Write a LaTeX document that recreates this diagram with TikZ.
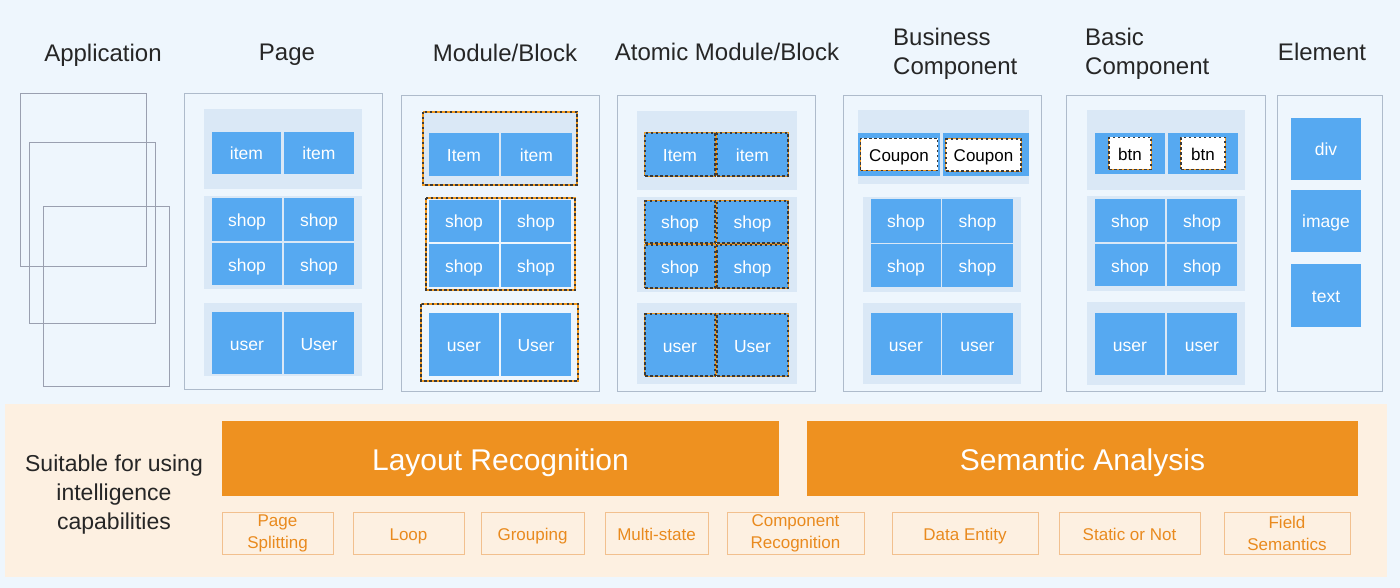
\documentclass[tikz,border=0pt]{standalone}
\usepackage{fontspec}
\setmainfont{Liberation Sans}

\definecolor{bgblue}{HTML}{EEF6FD}
\definecolor{panelline}{HTML}{AEBBCB}
\definecolor{grpblue}{HTML}{DAE8F6}
\definecolor{cellblue}{HTML}{56A9F1}
\definecolor{barorange}{HTML}{EE9120}
\definecolor{beige}{HTML}{FDF0E1}
\definecolor{tagline}{HTML}{F2C08E}
\definecolor{tagtext}{HTML}{E98A1E}
\definecolor{dashorange}{HTML}{F39A1E}
\definecolor{dashdark}{HTML}{3A3A3A}
\definecolor{appline}{HTML}{9AA0B0}

\tikzset{
  head/.style={anchor=base, font=\fontsize{24}{29}\selectfont, text=black!85, inner sep=0pt},
  panel/.style={draw=panelline, line width=0.8pt},
  grp/.style={fill=grpblue},
  cell/.style 2 args={fill=cellblue, text=white, inner sep=0pt, text height=16pt, text depth=2pt,
    minimum width=#1, minimum height=#2, font=\fontsize{17.5}{20}\selectfont},
  ddash/.style={draw=dashdark, line width=1.2pt, dash pattern=on 2.5pt off 2.5pt,
    preaction={draw=dashorange, line width=1.2pt, dash pattern=on 2.5pt off 2.5pt, dash phase=2.5pt}},
  tag/.style={draw=dashdark, fill=white, text=black, inner sep=0pt, text height=16pt, text depth=2pt,
    minimum width=#1, minimum height=32, font=\fontsize{17}{20}\selectfont},
  bar/.style={fill=barorange, text=white, inner sep=0pt, minimum height=75, text height=26pt, text depth=3pt,
    minimum width=#1, font=\fontsize{30}{34}\selectfont},
  skill/.style={draw=tagline, line width=0.8pt, text=tagtext, inner sep=0pt, align=center,
    minimum height=42, minimum width=#1, font=\fontsize{17}{21.5}\selectfont},
  skillone/.style={draw=tagline, line width=0.8pt, text=tagtext, inner sep=0pt, text height=16pt, text depth=2pt,
    minimum height=42, minimum width=#1, font=\fontsize{17}{21}\selectfont},
}

\begin{document}
\begin{tikzpicture}[x=1pt,y=-1pt]
    \fill[bgblue] (0,0) rectangle (1400,588);
    \useasboundingbox (0,0) rectangle (1400,588);

    % column titles
    \node[head] (h-app) at (103,62) {Application};
    \node[head] (h-page) at (287,61) {Page};
    \node[head] (h-mod) at (505,62) {Module/Block};
    \node[head] (h-atom) at (727,61) {Atomic Module/Block};
    \node[head, anchor=base west, align=left] (h-bus) at (893,75) {Business\\Component};
    \node[head, anchor=base west, align=left] (h-basic) at (1085,75) {Basic\\Component};
    \node[head] (h-elem) at (1322,61) {Element};

    % application: stacked pages
    \draw[appline, line width=0.9pt] (20,93) rectangle (146,266);
    \draw[appline, line width=0.9pt] (29,142) rectangle (155,323);
    \draw[appline, line width=0.9pt] (43,206) rectangle (169,386);

    % page
    \draw[panel] (184,93) rectangle (382,389);
    \fill[grp] (204,109) rectangle (362,189);
    \fill[grp] (204,196) rectangle (362,289);
    \fill[grp] (204,303) rectangle (362,376);
    \node[cell={69}{42}] (pg-i1) at (246.5,153) {item};
    \node[cell={70}{42}] (pg-i2) at (319,153) {item};
    \node[cell={70}{43}] (pg-s1) at (247,219.5) {shop};
    \node[cell={70}{43}] (pg-s2) at (319,219.5) {shop};
    \node[cell={70}{42}] (pg-s3) at (247,264) {shop};
    \node[cell={70}{42}] (pg-s4) at (319,264) {shop};
    \node[cell={70}{62}] (pg-u1) at (247,343) {user};
    \node[cell={70}{62}] (pg-u2) at (319,343) {User};

    % module/block
    \draw[panel] (401,95) rectangle (599,391);
    \fill[grp] (423,112) rectangle (577,185);
    \node[cell={70}{43}] (md-i1) at (464,154.5) {Item};
    \node[cell={71}{43}] (md-i2) at (536.5,154.5) {item};
    \node[cell={70}{42}] (md-s1) at (464,221) {shop};
    \node[cell={70}{42}] (md-s2) at (536,221) {shop};
    \node[cell={70}{43}] (md-s3) at (464,265.5) {shop};
    \node[cell={70}{43}] (md-s4) at (536,265.5) {shop};
    \node[cell={70}{63}] (md-u1) at (464,344.5) {user};
    \node[cell={70}{63}] (md-u2) at (536,344.5) {User};
    \draw[ddash] (423,112) rectangle (577,185);
    \draw[ddash] (426,198) rectangle (575,290);
    \draw[ddash] (421,304) rectangle (578,381);

    % atomic module/block
    \draw[panel] (617,95) rectangle (815,391);
    \fill[grp] (637,111) rectangle (797,190);
    \fill[grp] (637,197) rectangle (797,292);
    \fill[grp] (637,303) rectangle (797,384);
    \node[cell={70}{43}, ddash] (at-i1) at (680,154.5) {Item};
    \node[cell={71}{43}, ddash] (at-i2) at (752.5,154.5) {item};
    \node[cell={70}{42}, ddash] (at-s1) at (680,222) {shop};
    \node[cell={71}{42}, ddash] (at-s2) at (752.5,222) {shop};
    \node[cell={70}{43}, ddash] (at-s3) at (680,266.5) {shop};
    \node[cell={71}{43}, ddash] (at-s4) at (752.5,266.5) {shop};
    \node[cell={70}{62}, ddash] (at-u1) at (680,345) {user};
    \node[cell={71}{62}, ddash] (at-u2) at (752.5,345) {User};

    % business component
    \draw[panel] (843,95) rectangle (1041,391);
    \fill[grp] (858,110) rectangle (1029,184);
    \fill[grp] (863,197) rectangle (1021,292);
    \fill[grp] (863,303) rectangle (1021,384);
    \node[cell={82}{43}] (bz-c1) at (899,154.5) {};
    \node[cell={86}{43}] (bz-c2) at (986,154.5) {};
    \node[tag=77, ddash] (bz-t1) at (bz-c1.center) {Coupon};
    \node[tag=75, ddash] (bz-t2) at (983.5,155) {Coupon};
    \node[cell={70}{44}] (bz-s1) at (906,221) {shop};
    \node[cell={71}{44}] (bz-s2) at (977.5,221) {shop};
    \node[cell={70}{43}] (bz-s3) at (906,265.5) {shop};
    \node[cell={71}{43}] (bz-s4) at (977.5,265.5) {shop};
    \node[cell={70}{62}] (bz-u1) at (906,344) {user};
    \node[cell={71}{62}] (bz-u2) at (977.5,344) {user};

    % basic component
    \draw[panel] (1066,95) rectangle (1265,391);
    \fill[grp] (1087,110) rectangle (1245,190);
    \fill[grp] (1087,196) rectangle (1245,291);
    \fill[grp] (1087,302) rectangle (1245,385);
    \node[cell={70}{41}] (bs-b1) at (1130,153.5) {};
    \node[cell={70}{41}] (bs-b2) at (1203,153.5) {};
    \node[tag=42, ddash] (bs-t1) at (bs-b1.center) {btn};
    \node[tag=44, ddash] (bs-t2) at (bs-b2.center) {btn};
    \node[cell={70}{43}] (bs-s1) at (1130,220.5) {shop};
    \node[cell={70}{43}] (bs-s2) at (1202,220.5) {shop};
    \node[cell={70}{42}] (bs-s3) at (1130,265) {shop};
    \node[cell={70}{42}] (bs-s4) at (1202,265) {shop};
    \node[cell={70}{62}] (bs-u1) at (1130,344) {user};
    \node[cell={70}{62}] (bs-u2) at (1202,344) {user};

    % element
    \draw[panel] (1277,95) rectangle (1382,391);
    \node[cell={70}{62}] (el-div) at (1326,149) {div};
    \node[cell={70}{62}] (el-img) at (1326,221) {image};
    \node[cell={70}{63}] (el-txt) at (1326,295.5) {text};

    % capabilities
    \fill[beige] (5,404) rectangle (1387,577);
    \node[align=center, inner sep=0pt, text=black!85, font=\fontsize{23}{29}\selectfont] (suit) at (114,495) {Suitable for using\\intelligence\\capabilities};
    \node[bar=557] (layout) at (500.5,458.5) {Layout Recognition};
    \node[bar=551] (semantic) at (1082.5,458.5) {Semantic Analysis};
    \node[skill=111] (sk-page) at (277.5,533.5) {Page\\Splitting};
    \node[skillone=111] (sk-loop) at (408.5,533.5) {Loop};
    \node[skillone=103] (sk-group) at (532.5,533.5) {Grouping};
    \node[skillone=103] (sk-multi) at (656.5,533.5) {Multi-state};
    \node[skill=137] (sk-comp) at (795.5,533.5) {Component\\Recognition};
    \node[skillone=146] (sk-data) at (965,533.5) {Data Entity};
    \node[skillone=141] (sk-static) at (1129.5,533.5) {Static or Not};
    \node[skill=126] (sk-field) at (1287,533.5) {Field\\Semantics};
\end{tikzpicture}
\end{document}
